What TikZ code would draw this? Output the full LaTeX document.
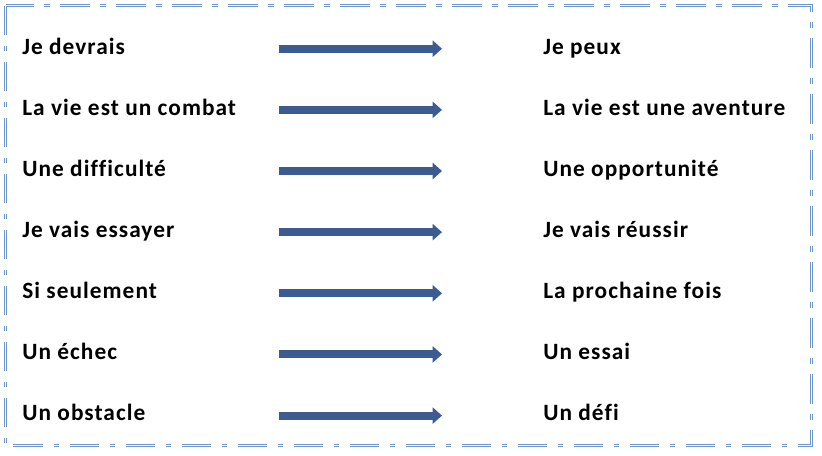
\documentclass[tikz,border=0pt]{standalone}
\usepackage{fontspec}
\setmainfont{Carlito}[LetterSpace=4.5, Ligatures=NoCommon]
\usetikzlibrary{arrows.meta}

\definecolor{framecol}{RGB}{110,150,205}
\definecolor{arrowcol}{RGB}{60,92,145}

\tikzset{
  wordtext/.style={anchor=base west, inner sep=0pt, font=\fontsize{17.5}{20}\selectfont\bfseries},
  changearrow/.style={draw=arrowcol, line width=6pt, -{Triangle[length=7pt, width=12pt]}},
  framebox/.style={draw=framecol, double=white, line width=0.7pt, double distance=1.1pt,
    dash pattern=on 22pt off 8pt on 4pt off 8pt}
}

\begin{document}
\begin{tikzpicture}[x=0.75pt,y=0.75pt,yscale=-1,xscale=1]
\useasboundingbox (0,0) rectangle (822,455);

%Shape: Double dash-dot frame
\draw [framebox] (5.5,5.5) rectangle (811.5,445.5);

% Text Nodes and arrows
\foreach \lw/\rw [count=\i] in {Je devrais/Je peux, La vie est un combat/La vie est une aventure, Une difficulté/Une opportunité, Je vais essayer/Je vais réussir, Si seulement/La prochaine fois, Un échec/Un essai, Un obstacle/Un défi}{
  \node [wordtext] (l\i) at (22,{54+61.15*(\i-1)}) {\lw};
  \node [wordtext] (r\i) at (543,{54+61.15*(\i-1)}) {\rw};
  \coordinate (a\i) at (279,{48.7+61.15*(\i-1)});
  \coordinate (b\i) at (442,{48.7+61.15*(\i-1)});
  \draw [changearrow] (a\i) -- (b\i);
}
\end{tikzpicture}
\end{document}
